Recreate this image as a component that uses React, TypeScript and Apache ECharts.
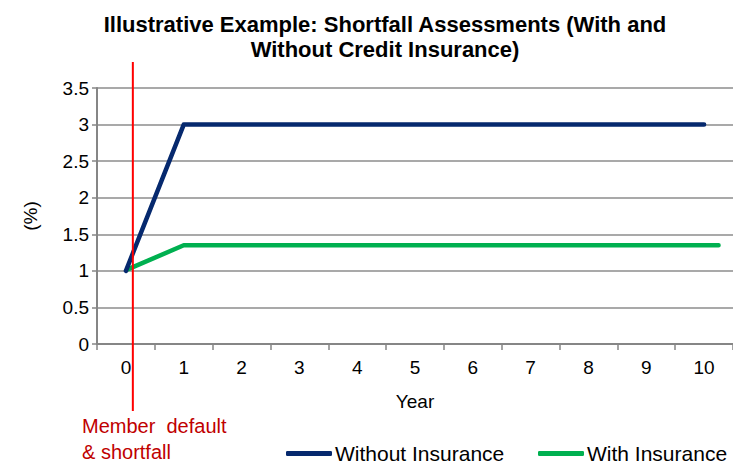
import React, { useEffect, useRef } from "react";
import * as echarts from "echarts";

const years = ["0", "1", "2", "3", "4", "5", "6", "7", "8", "9", "10"];
const withoutX = [0, 1, 2, 3, 4, 5, 6, 7, 8, 9, 10];
const withoutY = [1, 3, 3, 3, 3, 3, 3, 3, 3, 3, 3];
const withX = [0.03, 1, 2, 3, 4, 5, 6, 7, 8, 9, 10.25];
const withY = [1.02, 1.35, 1.35, 1.35, 1.35, 1.35, 1.35, 1.35, 1.35, 1.35, 1.35];
const defaultYear = 0.12;
const seriesNames = ["Without Insurance", "With Insurance"];

const FONT = "'Liberation Sans', Arial, sans-serif";

const legendBase = {
  top: 443,
  itemWidth: 46,
  itemHeight: 5,
  icon: "roundRect",
  padding: 0,
  textStyle: { fontFamily: FONT, fontSize: 21, lineHeight: 21, color: "#000", padding: [0, 0, 0, -2] },
};

export default function App() {
  const ref = useRef<HTMLDivElement>(null);
  useEffect(() => {
    if (!ref.current) return;
    const chart = echarts.init(ref.current, undefined, { renderer: "svg" });
    const option: any = {
      animation: false,
      backgroundColor: "#ffffff",
      textStyle: { fontFamily: FONT },
      title: {
        text: "Illustrative Example: Shortfall Assessments (With and\nWithout Credit Insurance)",
        left: 380,
        top: 7,
        textAlign: "center",
        textStyle: {
          fontFamily: FONT,
          fontSize: 22,
          fontWeight: "bold",
          color: "#000",
          lineHeight: 25,
        },
      },
      legend: [
        { ...legendBase, left: 286, data: [seriesNames[0]] },
        { ...legendBase, left: 538, data: [seriesNames[1]] },
      ],
      grid: { left: 97, right: 0, top: 88, bottom: 122, containLabel: false },
      xAxis: [
        {
          type: "category",
          data: years,
          boundaryGap: true,
          name: "Year",
          nameLocation: "middle",
          nameGap: 48,
          nameTextStyle: { fontFamily: FONT, fontSize: 19, color: "#000" },
          axisLine: { lineStyle: { color: "#868686", width: 2 } },
          axisTick: { show: true, length: 6, lineStyle: { color: "#868686", width: 1.5 } },
          axisLabel: { fontFamily: FONT, fontSize: 19, color: "#000", margin: 14 },
          splitLine: { show: false },
        },
        {
          type: "value",
          min: -0.5,
          max: 10.5,
          show: false,
          splitLine: { show: false },
        },
      ],
      yAxis: {
        type: "value",
        min: 0,
        max: 3.5,
        interval: 0.5,
        name: "(%)",
        nameLocation: "middle",
        nameGap: 57,
        nameRotate: 90,
        nameTextStyle: { fontFamily: FONT, fontSize: 19, color: "#000" },
        axisLine: { show: true, onZero: false, lineStyle: { color: "#868686", width: 2 } },
        axisTick: { show: true, length: 5, lineStyle: { color: "#868686", width: 1.5 } },
        axisLabel: { fontFamily: FONT, fontSize: 19, color: "#000", margin: 8 },
        splitLine: { show: true, lineStyle: { color: "#8c8c8c", width: 1.5 } },
      },
      series: [
        {
          name: seriesNames[0],
          type: "line",
          xAxisIndex: 1,
          data: withoutX.map((x, i) => [x, withoutY[i]]),
          symbol: "none",
          color: "#06296E",
          lineStyle: { color: "#06296E", width: 4.5, cap: "round", join: "round" },
          z: 3,
        },
        {
          name: seriesNames[1],
          type: "line",
          xAxisIndex: 1,
          data: withX.map((x, i) => [x, withY[i]]),
          symbol: "none",
          color: "#00B050",
          lineStyle: { color: "#00B050", width: 4.5, cap: "round", join: "round" },
          z: 2,
        },
      ],
    };
    chart.setOption(option);
    const px = chart.convertToPixel({ xAxisIndex: 1 }, defaultYear) as number;
    chart.setOption({
      graphic: [
        {
          type: "line",
          shape: { x1: px, y1: 62, x2: px, y2: 411 },
          style: { stroke: "#FF0000", lineWidth: 2 },
          z: 10,
        },
        {
          type: "text",
          left: 82,
          top: 413,
          style: {
            text: "Member  default\n& shortfall",
            fill: "#C00000",
            fontFamily: FONT,
            fontSize: 20,
            lineHeight: 26,
          },
        },
      ],
    });
    return () => chart.dispose();
  }, []);
  return <div ref={ref} style={{ width: 733, height: 466, position: "absolute", left: 0, top: 0 }} />;
}
